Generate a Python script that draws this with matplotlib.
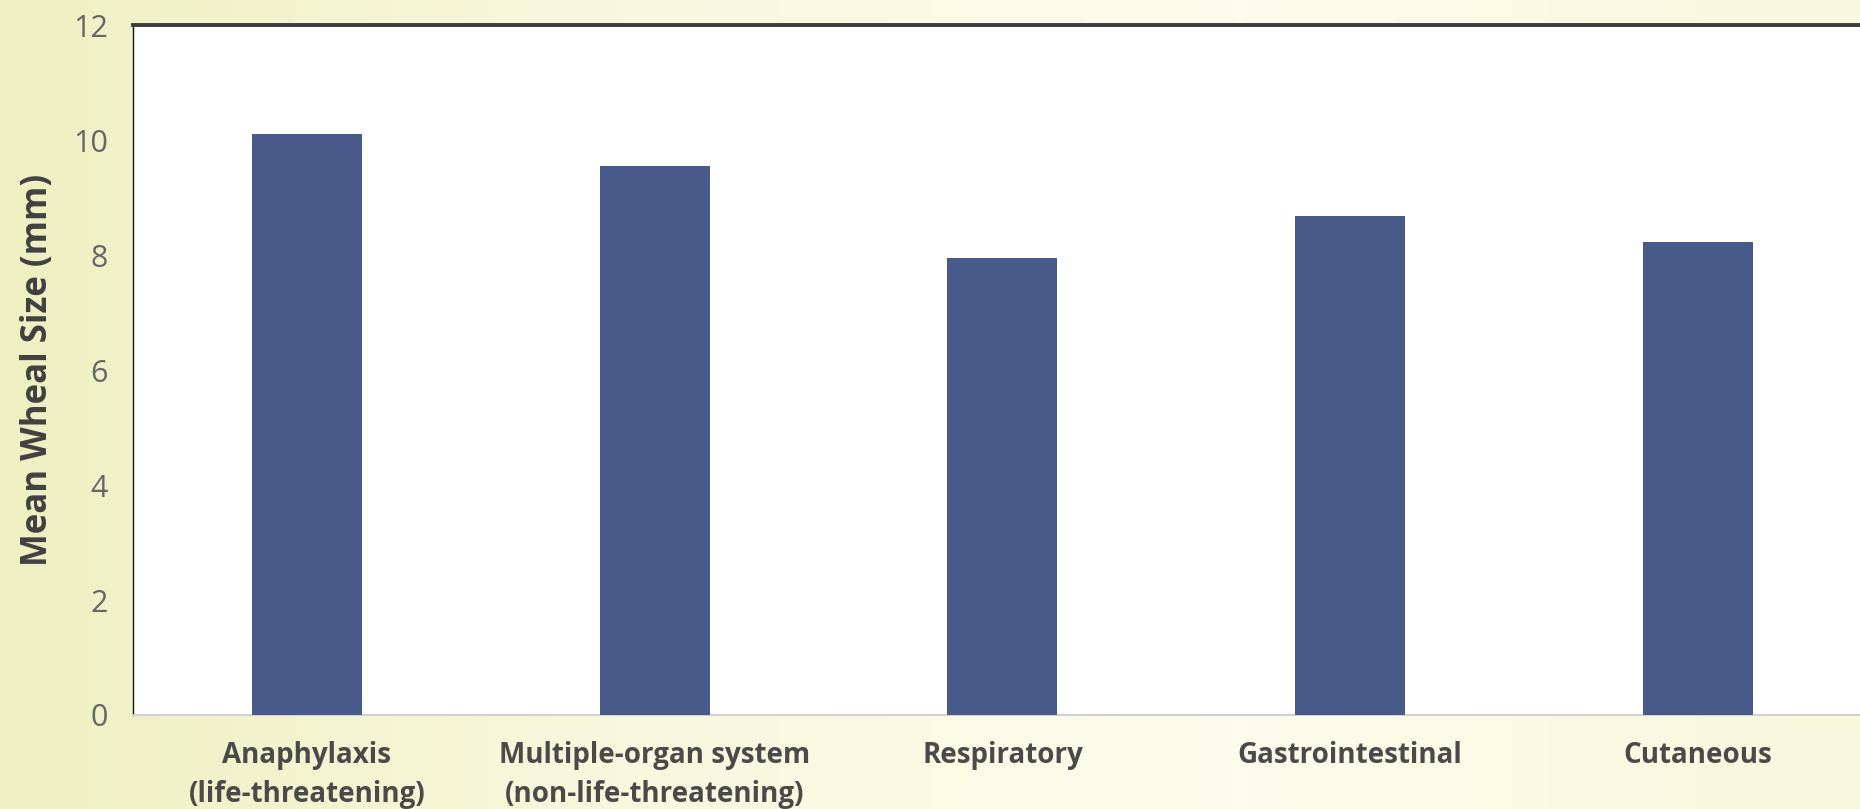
import numpy as np
import matplotlib
matplotlib.use('Agg')
import matplotlib.pyplot as plt
from matplotlib.colors import LinearSegmentedColormap

plt.rcParams['font.family'] = ['Open Sans', 'DejaVu Sans']

# data
categories = ['Anaphylaxis\n(life-threatening)',
              'Multiple-organ system\n(non-life-threatening)',
              'Respiratory',
              'Gastrointestinal',
              'Cutaneous']
wheal_size = [10.1, 9.54, 7.94, 8.68, 8.22]
y_ticks = [0, 2, 4, 6, 8, 10, 12]

fig = plt.figure(figsize=(18.6, 8.09), dpi=100)

# yellowish slide background (horizontal gradient)
bg = fig.add_axes([0, 0, 1, 1], zorder=-10)
cmap = LinearSegmentedColormap.from_list('bg', ['#eef0c2', '#f8f8de', '#fcfcec', '#f8f8dc'])
grad = np.linspace(0, 1, 256).reshape(1, -1)
bg.imshow(grad, aspect='auto', cmap=cmap, extent=[0, 1, 0, 1])
bg.axis('off')

ax = fig.add_axes([133 / 1860, 1 - 715 / 809, 1727 / 1860, 690 / 809])
ax.set_facecolor('white')

x = np.arange(len(categories))
ax.bar(x, wheal_size, width=0.316, color='#475a8a', zorder=3)

ax.set_xlim(-0.5, -0.5 + 1727 / 347.75)
ax.set_ylim(0, 12)
ax.set_yticks(y_ticks)
ax.set_yticklabels([str(t) for t in y_ticks], fontsize=22, color='#666666')
ax.set_xticks(x)
ax.set_xticklabels(categories, fontsize=20, fontweight='bold', color='#4a4a4a',
                   linespacing=1.42)
ax.tick_params(axis='y', length=0, pad=18)
ax.tick_params(axis='x', length=0, pad=19)

ax.set_ylabel('Mean Wheal Size (mm)', fontsize=25, fontweight='bold', color='#404040',
              labelpad=12)

ax.spines['top'].set_color('#3c3c3c')
ax.spines['top'].set_linewidth(2.8)
ax.spines['left'].set_color('#111111')
ax.spines['left'].set_linewidth(1.0)
ax.spines['bottom'].set_color('#d0d0d0')
ax.spines['bottom'].set_linewidth(1.4)
ax.spines['right'].set_visible(False)

fig.savefig('out.png', dpi=100)
